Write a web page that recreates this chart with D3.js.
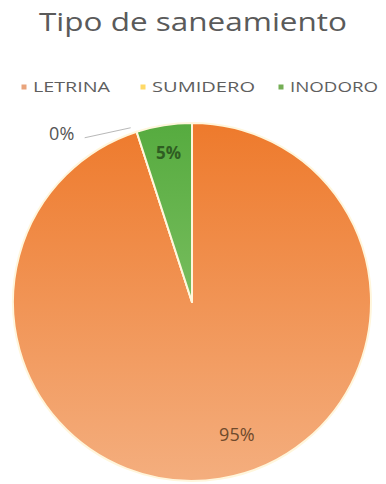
<!DOCTYPE html>
<html>
<head>
<meta charset="utf-8">
<script src="https://cdn.jsdelivr.net/npm/d3@7"></script>
<style>
  html, body { margin: 0; padding: 0; background: #fff; }
  svg { display: block; }
</style>
</head>
<body>
<svg id="chart" width="386" height="484"></svg>
<script>
// Sanitation type shares (percent)
const categories = ["LETRINA", "SUMIDERO", "INODORO"];
const values = [95, 0, 5];
const valueLabels = ["95%", "0%", "5%"];
const title = "Tipo de saneamiento";

const width = 386, height = 484;
const cx = 192, cy = 302, radius = 179;

const svg = d3.select("#chart");
const defs = svg.append("defs");

// vertical gradients across the whole pie
const gradStops = {
  LETRINA: ["#ee7a2c", "#f4ae7e"],
  SUMIDERO: ["#ffd966", "#ffe8a0"],
  INODORO: ["#56ab3f", "#98cf7c"]
};
categories.forEach((c, i) => {
  const g = defs.append("linearGradient")
    .attr("id", "grad" + i)
    .attr("gradientUnits", "userSpaceOnUse")
    .attr("x1", 0).attr("x2", 0)
    .attr("y1", -radius).attr("y2", radius);
  g.append("stop").attr("offset", "0%").attr("stop-color", gradStops[c][0]);
  g.append("stop").attr("offset", "100%").attr("stop-color", gradStops[c][1]);
});

const legendColors = d3.scaleOrdinal()
  .domain(categories)
  .range(["#e9a47c", "#ffd966", "#74ae55"]);

// Title
svg.append("text")
  .attr("x", width / 2)
  .attr("y", 31)
  .attr("text-anchor", "middle")
  .attr("font-family", "'Open Sans', sans-serif")
  .attr("font-size", 25)
  .attr("fill", "#5a5a5a")
  .attr("textLength", 308)
  .attr("lengthAdjust", "spacingAndGlyphs")
  .text(title);

// Legend
const legendItems = [
  { x: 24, w: 77 },
  { x: 143, w: 103 },
  { x: 281, w: 88 }
];
const legend = svg.append("g").attr("transform", "translate(0,87)");
categories.forEach((c, i) => {
  const it = legendItems[i];
  legend.append("rect")
    .attr("x", it.x - 2.5).attr("y", -2.5)
    .attr("width", 5).attr("height", 5)
    .attr("fill", legendColors(c));
  legend.append("text")
    .attr("x", it.x + 9)
    .attr("y", 5)
    .attr("font-family", "'Open Sans', sans-serif")
    .attr("font-size", 14)
    .attr("fill", "#5e5e5e")
    .attr("textLength", it.w)
    .attr("lengthAdjust", "spacingAndGlyphs")
    .text(c);
});

// Pie
const pie = d3.pie().sort(null).value(d => d)(values);
const arc = d3.arc().innerRadius(0).outerRadius(radius);
const g = svg.append("g").attr("transform", `translate(${cx},${cy})`);

g.selectAll("path.slice")
  .data(pie)
  .join("path")
  .attr("class", "slice")
  .attr("d", arc)
  .attr("fill", (d, i) => `url(#grad${i})`)
  .attr("stroke", "#fff6dc")
  .attr("stroke-width", 2)
  .attr("stroke-linejoin", "round");

// Labels
const inside = d3.arc().innerRadius(radius * 0.84).outerRadius(radius * 0.84);
const labelColors = ["#6e4a2c", "#555555", "#2f5d22"];

pie.forEach((d, i) => {
  if (d.value > 0) {
    let [x, y] = inside.centroid(d);
    if (i === 0) { // large slice: pull label toward the lower right
      const a = (d.startAngle + d.endAngle) / 2 - 0.17;
      const rr = radius * 0.78;
      x = Math.sin(a) * rr; y = -Math.cos(a) * rr;
    }
    g.append("text")
      .attr("x", x).attr("y", y)
      .attr("dy", "0.35em")
      .attr("text-anchor", "middle")
      .attr("font-family", "'Open Sans', sans-serif")
      .attr("font-size", i === 0 ? 18 : 17)
      .attr("font-weight", i === 2 ? 700 : 400)
      .attr("fill", labelColors[i])
      .text(valueLabels[i]);
  } else {
    // zero slice: label outside with a leader line
    const a = d.startAngle;
    const edge = [Math.sin(a) * radius, -Math.cos(a) * radius];
    const lx = edge[0] - 75, ly = edge[1] + 2;
    g.append("path")
      .attr("d", d3.line()([[edge[0] - 6, edge[1] - 4], [edge[0] - 52, edge[1] + 6]]))
      .attr("stroke", "#b8b8b8")
      .attr("stroke-width", 1)
      .attr("fill", "none");
    g.append("text")
      .attr("x", lx).attr("y", ly)
      .attr("dy", "0.35em")
      .attr("text-anchor", "middle")
      .attr("font-family", "'Open Sans', sans-serif")
      .attr("font-size", 18)
      .attr("fill", labelColors[i])
      .text(valueLabels[i]);
  }
});
</script>
</body>
</html>
